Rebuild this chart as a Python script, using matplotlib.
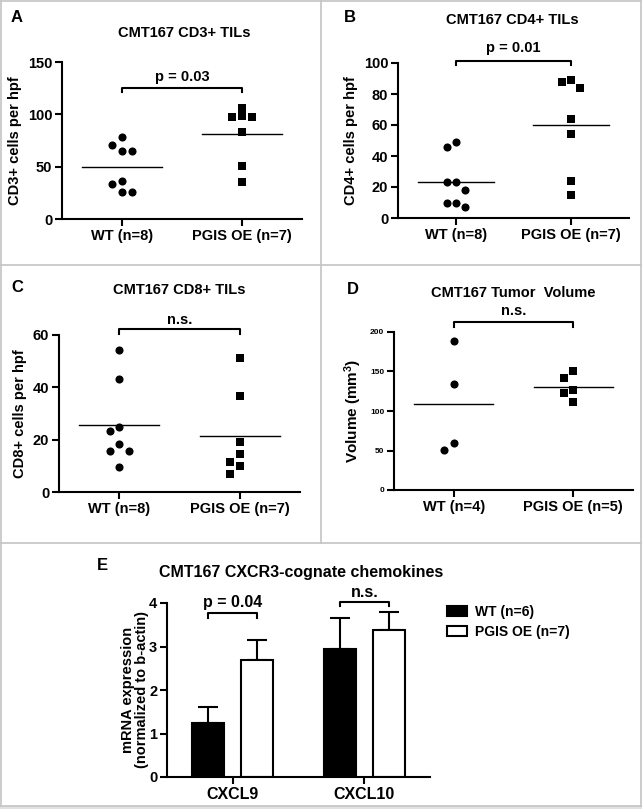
import numpy as np
import matplotlib
matplotlib.use('Agg')
import matplotlib.pyplot as plt
from matplotlib.lines import Line2D
from matplotlib.patches import Patch

plt.rcParams['font.family'] = ['Liberation Sans', 'DejaVu Sans']
plt.rcParams['font.weight'] = 'bold'
plt.rcParams['mathtext.fontset'] = 'custom'
plt.rcParams['mathtext.rm'] = 'Liberation Sans:bold'
plt.rcParams['mathtext.default'] = 'rm'

# data
groups_a = ['WT (n=8)', 'PGIS OE (n=7)']
cd3_wt = [78, 71, 65, 65, 36, 33, 26, 26]
cd3_oe = [106, 97, 98, 97, 83, 51, 35]

cd4_wt = [49, 46, 23, 23, 18, 10, 10, 7]
cd4_oe = [89, 88, 84, 64, 54, 24, 15]

cd8_wt = [54.3, 43, 24.9, 23.2, 18.5, 15.8, 15.8, 9.6]
cd8_oe = [51.4, 36.6, 19.1, 14.4, 11.4, 9.8, 6.8]

groups_d = ['WT (n=4)', 'PGIS OE (n=5)']
vol_wt = [189, 134, 59, 51]
vol_oe = [150, 142, 126, 123, 111]

genes = ['CXCL9', 'CXCL10']
mrna_wt = [1.25, 2.95]
mrna_wt_err = [0.35, 0.71]
mrna_oe = [2.69, 3.37]
mrna_oe_err = [0.47, 0.42]

W, H = 642, 809
fig = plt.figure(figsize=(W / 100, H / 100), dpi=100)


def box(l, t, r, b):
    return [l / W, 1 - b / H, (r - l) / W, (b - t) / H]


def swarm(vals, unit_px, step=0.08, gap=8):
    # simple column scatter: shift points sideways when they would overlap
    vals = np.asarray(vals, float)
    order = np.argsort(-vals, kind='stable')
    slots = [0, -1, 1, -2, 2, -3, 3]
    xs = np.zeros(len(vals))
    placed = []
    for i in order:
        for s in slots:
            if all(not (ps == s and abs(vals[i] - pv) * unit_px < gap) for ps, pv in placed):
                break
        placed.append((s, vals[i]))
        xs[i] = s * step
    return xs


def style(ax, ytick_size=10.5, xtick_size=10.5):
    for s in ['top', 'right']:
        ax.spines[s].set_visible(False)
    for s in ['left', 'bottom']:
        ax.spines[s].set_linewidth(1.5)
    ax.tick_params(width=1.5, length=5, pad=2)
    ax.tick_params(axis='y', labelsize=ytick_size)
    ax.tick_params(axis='x', labelsize=xtick_size)
    for lab in ax.get_xticklabels() + ax.get_yticklabels():
        lab.set_fontweight('bold')


def bracket(ax, x0, x1, y_top, y_low, lw=1.5):
    ax.plot([x0, x0, x1, x1], [y_low, y_top, y_top, y_low], color='black',
            lw=lw, clip_on=False)


def dot_panel(rect, wt, oe, ymax, yticks, ylabel, labels, ytick_size=10.5):
    ax = fig.add_axes(box(*rect))
    h_px = rect[3] - rect[1]
    unit_px = h_px / ymax
    for i, (vals, mk) in enumerate([(wt, 'o'), (oe, 's')]):
        xs = i + swarm(vals, unit_px)
        ax.scatter(xs, vals, marker=mk, s=34, color='black', zorder=3,
                   clip_on=False, linewidths=0)
        m = np.mean(vals)
        ax.plot([i - 0.33, i + 0.33], [m, m], color='black', lw=1)
    ax.set_xlim(-0.5, 1.5)
    ax.set_ylim(0, ymax)
    ax.set_yticks(yticks)
    ax.set_xticks([0, 1])
    ax.set_xticklabels(labels)
    ax.set_ylabel(ylabel, fontsize=10.5, fontweight='bold', labelpad=4)
    style(ax, ytick_size)
    return ax


# panel A
ax = dot_panel((62, 62, 302, 219), cd3_wt, cd3_oe, 150, [0, 50, 100, 150],
               'CD3+ cells per hpf', groups_a)
bracket(ax, 0, 1, 125, 121)
ax.text(0.5, 129, 'p = 0.03', ha='center', va='bottom', fontsize=10.5, fontweight='bold')

# panel B
ax = dot_panel((398, 63, 629, 218), cd4_wt, cd4_oe, 100, [0, 20, 40, 60, 80, 100],
               'CD4+ cells per hpf', groups_a)
bracket(ax, 0, 1, 101.5, 99)
ax.text(0.5, 105, 'p = 0.01', ha='center', va='bottom', fontsize=10.5, fontweight='bold')

# panel C
ax = dot_panel((59, 335, 300, 492), cd8_wt, cd8_oe, 60, [0, 20, 40, 60],
               'CD8+ cells per hpf', groups_a)
bracket(ax, 0, 1, 62.2, 60.4)
ax.text(0.5, 63.2, 'n.s.', ha='center', va='bottom', fontsize=10.5)

# panel D
ax = dot_panel((394, 332, 633, 490), vol_wt, vol_oe, 200, [0, 50, 100, 150, 200],
               'Volume (mm$^3$)', groups_d, ytick_size=6)
ax.yaxis.label.set_size(11)
bracket(ax, 0, 1, 212.7, 206)
ax.text(0.5, 218, 'n.s.', ha='center', va='bottom', fontsize=10.5, fontweight='bold')

# panel E
ax = fig.add_axes(box(167, 603, 430, 777))
x = np.arange(len(genes))
off, bw = 0.187, 0.245
ax.bar(x - off, mrna_wt, bw, color='black', edgecolor='black', lw=1.5, zorder=2)
ax.bar(x + off, mrna_oe, bw, color='white', edgecolor='black', lw=1.5, zorder=2)
ax.errorbar(x - off, mrna_wt, yerr=[np.zeros(2), mrna_wt_err], fmt='none',
            ecolor='black', elinewidth=1.5, capsize=7, capthick=1.5, zorder=1)
ax.errorbar(x + off, mrna_oe, yerr=[np.zeros(2), mrna_oe_err], fmt='none',
            ecolor='black', elinewidth=1.5, capsize=7, capthick=1.5, zorder=1)
ax.set_xlim(-0.5, 1.5)
ax.set_ylim(0, 4)
ax.set_yticks([0, 1, 2, 3, 4])
ax.set_xticks(x)
ax.set_xticklabels(genes)
ax.set_ylabel('mRNA expression\n(normalized to b-actin)', fontsize=10.5,
              fontweight='bold', labelpad=0, linespacing=1.0)
style(ax, 10.5, 11.5)
bracket(ax, -off, off, 3.77, 3.66)
ax.text(0, 3.85, 'p = 0.04', ha='center', va='bottom', fontsize=11.5)
bracket(ax, 1 - off, 1 + off, 4.02, 3.92)
ax.text(1, 4.08, 'n.s.', ha='center', va='bottom', fontsize=11.5)
handles = [Patch(facecolor='black', edgecolor='black', lw=1.5),
           Patch(facecolor='white', edgecolor='black', lw=1.5)]
fig.legend(handles, ['WT (n=6)', 'PGIS OE (n=7)'], loc='upper left',
           bbox_to_anchor=(447 / W, 1 - 605 / H), frameon=False, fontsize=10,
           borderpad=0, borderaxespad=0, handlelength=1.45, handleheight=0.75,
           handletextpad=0.55, labelspacing=0.45)

# titles and panel letters
titles = [('CMT167 CD3+ TILs', 184, 33, 10.5), ('CMT167 CD4+ TILs', 512, 20, 10.5),
          ('CMT167 CD8+ TILs', 179, 290, 10.5), ('CMT167 Tumor  Volume', 513, 293, 10.5),
          ('CMT167 CXCR3-cognate chemokines', 301, 573, 11.5)]
for t, px, py, fs in titles:
    fig.text(px / W, 1 - py / H, t, ha='center', va='center', fontsize=fs,
             fontweight='bold')
for t, px, py in [('A', 17, 18), ('B', 350, 18), ('C', 17, 288), ('D', 353, 290), ('E', 102, 565)]:
    fig.text(px / W, 1 - py / H, t, ha='center', va='center', fontsize=12,
             fontweight='bold')

# panel borders
gray = '#c4c4c4'
def fline(xs, ys):
    fig.add_artist(Line2D([v / W for v in xs], [1 - v / H for v in ys],
                          color=gray, lw=1.2))

fline([1, 641], [1, 1])
fline([1, 1], [1, 806])
fline([641, 641], [1, 806])
fline([1, 641], [806, 806])
fline([321, 321], [1, 543])
fline([1, 641], [265, 265])
fline([1, 641], [543, 543])
fig.add_artist(plt.Rectangle((0, 0), 1, 3 / H, transform=fig.transFigure,
                             color='#e2e2e2', lw=0))

fig.savefig('out.png', dpi=100)
